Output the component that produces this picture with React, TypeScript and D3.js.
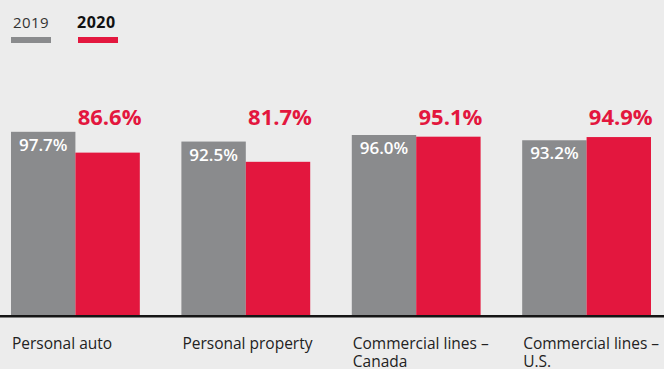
import React from "react";
import * as d3 from "d3";

const categories: string[][] = [
  ["Personal auto"],
  ["Personal property"],
  ["Commercial lines –", "Canada"],
  ["Commercial lines –", "U.S."],
];
const series2019: number[] = [97.7, 92.5, 96.0, 93.2];
const series2020: number[] = [86.6, 81.7, 95.1, 94.9];
const legendLabels: string[] = ["2019", "2020"];

const W = 664;
const H = 369;
const GRAY = "#8a8b8d";
const RED = "#e3173e";
const BG = "#ececec";
const FONT = "'Open Sans', 'DejaVu Sans', sans-serif";

export default function App() {
  const keys = categories.map((c) => c.join(" "));
  const x = d3.scaleBand<string>().domain(keys).range([11, 651]).paddingInner(0.244).paddingOuter(0);
  const sub = d3.scaleBand<string>().domain(legendLabels).range([0, x.bandwidth()]).padding(0);
  const y = d3.scaleLinear().domain([0, 100]).range([315, 127.5]);
  const fmt = (v: number) => d3.format(".1f")(v) + "%";

  return (
    <svg
      width={W}
      height={H}
      style={{ position: "absolute", left: 0, top: 0, display: "block" }}
      fontFamily={FONT}
    >
      <rect x={0} y={0} width={W} height={H} fill={BG} />
      {/* legend */}
      <text x={13} y={28} fontSize={15} fill="#333" letterSpacing={0.4}>
        {legendLabels[0]}
      </text>
      <rect x={11} y={37} width={40} height={6} fill={GRAY} />
      <text x={77} y={28} fontSize={16} fontWeight={700} fill="#111" letterSpacing={0.5}>
        {legendLabels[1]}
      </text>
      <rect x={78} y={37} width={40} height={6} fill={RED} />

      {keys.map((k, i) => {
        const x0 = x(k)!;
        const xg = x0 + sub(legendLabels[0])!;
        const xr = x0 + sub(legendLabels[1])!;
        const bw = sub.bandwidth();
        return (
          <g key={k}>
            <rect x={xg} y={y(series2019[i])} width={bw} height={y(0) - y(series2019[i])} fill={GRAY} />
            <rect x={xr} y={y(series2020[i])} width={bw} height={y(0) - y(series2020[i])} fill={RED} />
            <text
              x={xg + bw / 2}
              y={y(series2019[i]) + 19}
              textAnchor="middle"
              fontSize={17}
              fontWeight={600}
              fill="#fff"
            >
              {fmt(series2019[i])}
            </text>
            <text
              x={xr + bw / 2 + 2}
              y={125}
              textAnchor="middle"
              fontSize={22}
              fontWeight={700}
              fill={RED}
            >
              {fmt(series2020[i])}
            </text>
            {categories[i].map((line, j) => (
              <text key={j} x={x0 + 1} y={349 + j * 17.5} fontSize={15.5} fill="#222">
                {line}
              </text>
            ))}
          </g>
        );
      })}
      <line x1={0} x2={W} y1={316.3} y2={316.3} stroke="#151515" strokeWidth={2.5} />
    </svg>
  );
}
